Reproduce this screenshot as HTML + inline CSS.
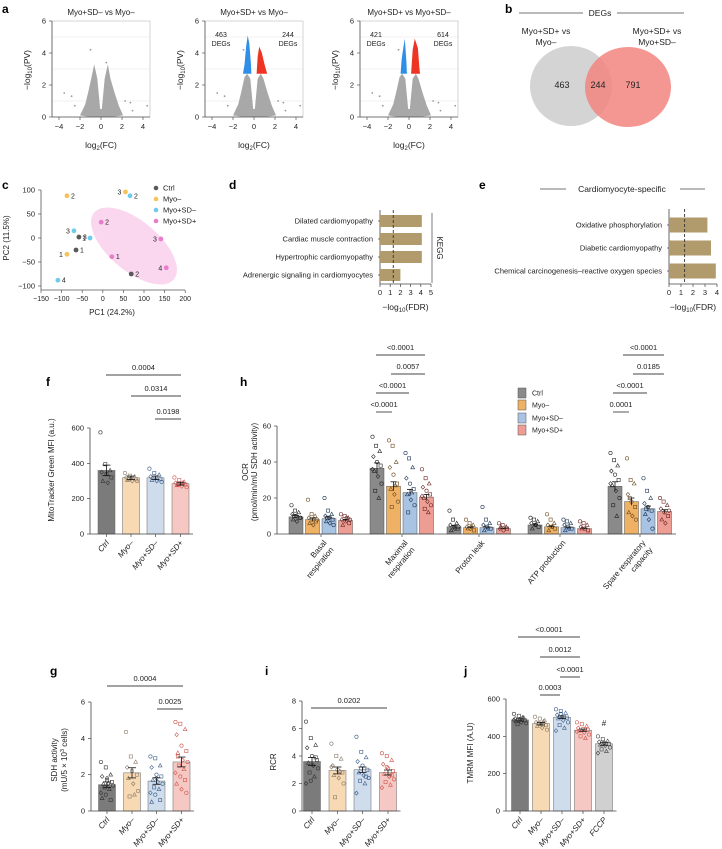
<!DOCTYPE html>
<html><head><meta charset="utf-8"><style>
body{margin:0;background:#fff;}
svg{display:block;font-family:"Liberation Sans",Arial,sans-serif;}
</style></head><body>
<svg id="fig" width="722" height="849" viewBox="0 0 722 849" xmlns="http://www.w3.org/2000/svg"></svg>
<script>
// ---------- data ----------
const volcTitles = ["Myo+SD– vs Myo–","Myo+SD+ vs Myo–","Myo+SD+ vs Myo+SD–"];
const volcDown = [null,"463","421"];
const volcUp = [null,"244","614"];
const volcOutliers = [[-3.5,1.5],[-2.8,1.3],[-2.5,0.7],[2.3,1.0],[2.8,0.9],[3.0,0.4],[4.4,0.7],[-1.0,4.2],[0.5,3.4]];
const vennLeft = 463, vennMid = 244, vennRight = 791;
const pcaGroups = ["Ctrl","Myo–","Myo+SD–","Myo+SD+"];
const pcaX = [[-58,-65,69],[-87,55,-87],[-70,-31,66,-109],[-4,22,141,154]];
const pcaY = [[2,-25,-75],[88,96,-34],[15,0,88,-88],[33,-39,-2,-62]];
const pcaLab = [["3","1","2"],["2","3","1"],["3","1","2","4"],["2","1","3","4"]];
const pcaXTicks = [-150,-100,-50,0,50,100,150,200];
const pcaYTicks = [100,50,0,-50,-100];
const keggTerms = ["Dilated cardiomyopathy","Cardiac muscle contraction","Hypertrophic cardiomyopathy","Adrenergic signaling in cardiomyocytes"];
const keggVals = [4.1,4.1,4.1,2.0];
const cardioTerms = ["Oxidative phosphorylation","Diabetic cardiomyopathy","Chemical carcinogenesis–reactive oxygen species"];
const cardioVals = [3.2,3.5,3.9];
const groups4 = ["Ctrl","Myo–","Myo+SD–","Myo+SD+"];
const fMeans = [360,318,318,285];
const fErr = [30,10,10,8];
const fPts = [[575,395,360,350,340,320,300,290],[345,330,325,320,315,310,305,300,300,310],[370,345,335,325,320,310,305,300,295],[320,305,295,290,285,280,275,270,265,280,290]];
const hCats = [["Basal","respiration"],["Maximal","respiration"],["Proton leak"],["ATP production"],["Spare respiratory","capacity"]];
const hMeans = [[9.5,8,8.5,7.5],[36.5,26.5,23,20.5],[4,3.5,3.5,3],[5,4,3.5,3],[26.5,18,14,12.5]];
const hErr = [[0.8,0.9,0.9,0.6],[3,2.5,1.8,1.5],[0.6,0.4,0.5,0.3],[0.5,0.4,0.4,0.3],[2.5,2,1.5,1]];
const hPts = [
 [[16,13,12,11,10,9,8,7,9,10],[19,11,10,9,8,7,6,5,8],[20,13,11,10,9,8,7,6,5,9],[11,10,9,8,7,6,5,9,8]],
 [[54,49,46,43,40,38,35,32,28,24,20,36],[52,49,40,37,33,28,25,22,18,15,27],[45,42,37,31,28,25,22,19,16,12,23],[36,31,28,26,24,22,20,18,16,14,12,21]],
 [[13,8,6,5,4,3,2,3,4],[8,6,5,4,3,2,3,4],[15,8,6,5,4,3,2,3],[6,5,4,3,2,3,4]],
 [[9,8,7,6,5,4,3,5],[11,8,6,5,4,3,2,4],[8,7,6,5,4,3,2,3],[7,6,5,4,3,2,3]],
 [[45,41,38,35,33,30,27,24,20,16,10,28],[42,30,28,22,18,15,12,10,8,20],[31,24,20,17,15,13,11,8,3,14],[20,18,16,14,12,10,8,6,13]]];
const hTicks = [0,20,40,60];
const gMeans = [1.45,2.1,1.65,2.7];
const gErr = [0.15,0.28,0.18,0.27];
const gPts = [[2.7,2.4,2.0,1.9,1.7,1.6,1.5,1.5,1.4,1.3,1.2,1.0,0.9,0.6,0.7,1.8],[4.35,3.0,2.7,2.4,2.2,2.0,1.8,1.5,1.1,0.8,0.9],[3.0,2.9,2.5,2.4,2.0,1.9,1.7,1.6,1.5,1.3,1.2,1.0,0.9,0.6,0.5,1.8],[4.9,4.8,4.5,4.2,3.6,3.3,3.2,2.8,2.7,2.5,2.3,2.1,1.9,1.7,1.5,1.2,1.0,3.0]];
const iMeans = [3.6,2.95,3.0,2.8];
const iErr = [0.3,0.25,0.2,0.18];
const iPts = [[6.5,5.3,4.8,4.6,4.0,3.7,3.5,3.3,3.1,2.8,2.5,2.0,2.2,3.9],[4.9,4.0,3.8,3.3,3.0,2.8,2.6,2.4,2.0,1.0,2.9,3.2],[5.4,4.3,3.9,3.6,3.3,3.0,2.8,2.6,2.4,2.2,2.0,1.3,3.1,2.5],[4.2,4.0,3.7,3.4,3.1,2.9,2.7,2.5,2.3,2.1,1.9,1.7,3.2,2.6]];
const jGroups = ["Ctrl","Myo–","Myo+SD–","Myo+SD+","FCCP"];
const jMeans = [488,468,502,433,360];
const jErr = [6,7,7,6,8];
const jPts = [[520,510,500,495,490,485,480,475,470,465,500,488],[505,495,485,475,465,460,455,445,435,470,480],[545,535,525,515,505,500,495,485,475,460,445,430,520],[475,465,455,445,440,435,430,420,410,400,390,425],[400,385,375,370,365,360,355,350,340,330,320,310]];

// ---------- helpers ----------
const S = document.getElementById('fig');
const NS = "http://www.w3.org/2000/svg";
function mk(tag, attrs, parent){const e=document.createElementNS(NS,tag);for(const k in attrs)e.setAttribute(k,attrs[k]);(parent||S).appendChild(e);return e;}
function tx(x,y,s,size,anchor,extra,parent){const e=mk('text',Object.assign({x:x,y:y,'font-size':size||7,'text-anchor':anchor||'middle',fill:'#222'},extra||{}),parent);e.textContent=s;return e;}
function ln(x1,y1,x2,y2,c,w,extra,parent){return mk('line',Object.assign({x1:x1,y1:y1,x2:x2,y2:y2,stroke:c||'#444','stroke-width':w||0.8},extra||{}),parent);}
function marker(cx,cy,shape,col,parent){
 if(shape===0) return mk('circle',{cx:cx,cy:cy,r:1.7,fill:'none',stroke:col,'stroke-width':0.6},parent);
 if(shape===1) return mk('rect',{x:cx-1.6,y:cy-1.6,width:3.2,height:3.2,fill:'none',stroke:col,'stroke-width':0.6},parent);
 if(shape===2) return mk('polygon',{points:(cx)+','+(cy-2)+' '+(cx+1.9)+','+(cy+1.4)+' '+(cx-1.9)+','+(cy+1.4),fill:'none',stroke:col,'stroke-width':0.6},parent);
 return mk('polygon',{points:(cx)+','+(cy-2)+' '+(cx+1.8)+','+cy+' '+cx+','+(cy+2)+' '+(cx-1.8)+','+cy,fill:'none',stroke:col,'stroke-width':0.6},parent);
}

// panel letters
[["a",2,13],["b",505,13],["c",2,189],["d",229,189],["e",479,189],["f",46,386],["h",240,386],["g",50,675],["i",265,675],["j",464,675]].forEach(p=>{
 const t=tx(p[1],p[2],p[0],12,'start',{'font-weight':'bold',fill:'#000'});
 
 
});

// ---------- a: volcano ----------
const volcLeft=[52,205,360];
for(let p=0;p<3;p++){
 const L=volcLeft[p], W=98;
 const xs=v=>L+7+(v+4)*(W-14)/8, ys=v=>117-v*16;
 const g=mk('g',{});
 
 
 for(let k=1;k<6;k+=2){ln(L,ys(k),L+W,ys(k),'#e6e6e6',0.6,{},g);}
 mk('rect',{x:L,y:21,width:W,height:96,fill:'none',stroke:'#bbb','stroke-width':0.6},g);
 const top = p===0?3.3:2.7;
 const cloud=[[-2,0.1],[-1.5,0.8],[-1.2,1.6],[-0.9,2.5],[-0.65,top],[-0.35,2.4],[-0.08,0.5],[0.08,0.5],[0.35,2.4],[0.65,top],[0.9,2.4],[1.3,1.5],[1.7,0.7],[2.1,0.1],[1,0],[-1,0]];
 const cl=mk('polygon',{points:cloud.map(q=>xs(q[0])+','+ys(q[1])).join(' '),fill:'#a8a8a8'},g);
 
 
 volcOutliers.forEach(o=>{mk('circle',{cx:xs(o[0]),cy:ys(o[1]),r:0.9,fill:'#999'},g);});
 if(p>0){
  const blue=[[-1.05,2.7],[-0.9,3.3],[-0.75,4.4],[-0.6,5.1],[-0.45,4.6],[-0.3,3.4],[-0.25,2.7]];
  const red=[[0.25,2.7],[0.35,3.8],[0.5,4.4],[0.75,4.0],[1.0,3.3],[1.25,2.7]];
  if(p===2){blue.splice(0,blue.length,[-0.8,2.7],[-0.7,3.6],[-0.55,4.3],[-0.4,4.9],[-0.25,3.5],[-0.2,2.7]);red.splice(0,red.length,[0.2,2.7],[0.35,4.2],[0.55,4.9],[0.85,4.3],[1.0,3.0],[1.05,2.7]);}
  const b=mk('polygon',{points:blue.map(q=>xs(q[0])+','+ys(q[1])).join(' '),fill:'#2f8fe8'},g);
  
  
  const r=mk('polygon',{points:red.map(q=>xs(q[0])+','+ys(q[1])).join(' '),fill:'#ee3524'},g);
  
  
  tx(L+16,37,volcDown[p],7,'middle',{},g);tx(L+16,46,'DEGs',7,'middle',{},g);
  tx(L+W-15,37,volcUp[p],7,'middle',{},g);tx(L+W-15,46,'DEGs',7,'middle',{},g);
 }
 ln(L,117,L+W,117,'#555',0.8,{},g);ln(L,21,L,117,'#555',0.8,{},g);
 for(let v=-4;v<=4;v+=2){ln(xs(v),117,xs(v),120,'#555',0.7,{},g);tx(xs(v),129,v<0?'−'+(-v):''+v,7.5,'middle',{},g);}
 for(let v=0;v<=6;v+=2){ln(L-3,ys(v),L,ys(v),'#555',0.7,{},g);tx(L-6,ys(v)+2.5,''+v,7.5,'end',{},g);}
 const t=tx(L+W/2,15,volcTitles[p],8,'middle',{},g);
 
 
 const xl=tx(L+W/2,148,'',8.5,'middle',{},g);xl.innerHTML='log<tspan font-size="6" dy="2">2</tspan><tspan dy="-2">(FC)</tspan>';
 const yl=tx(0,0,'',8.5,'middle',{transform:'translate('+(L-22)+',70) rotate(-90)'},g);yl.innerHTML='−log<tspan font-size="6" dy="2">10</tspan><tspan dy="-2">(PV)</tspan>';
}

// ---------- b: venn ----------
const vg=mk('g',{});


ln(519,13,583,13,'#444',0.7,{},vg);ln(617,13,684,13,'#444',0.7,{},vg);
tx(600,16,'DEGs',8.5,'middle',{},vg);
tx(546,34,'Myo+SD+ vs',8.5,'middle',{},vg);tx(546,45,'Myo–',8.5,'middle',{},vg);
tx(657,34,'Myo+SD+ vs',8.5,'middle',{},vg);tx(657,45,'Myo+SD–',8.5,'middle',{},vg);
const e1=mk('ellipse',{cx:571,cy:86,rx:41,ry:40,fill:'#d4d4d4'},vg);


const e2=mk('ellipse',{cx:628,cy:87,rx:43,ry:40,fill:'#f2857f','fill-opacity':0.85},vg);


tx(562,88,''+vennLeft,9,'middle',{},vg);tx(598,88,''+vennMid,9,'middle',{},vg);tx(633,88,''+vennRight,9,'middle',{},vg);

// ---------- c: PCA ----------
const pcx=v=>102.8+v*0.412, pcy=v=>238-v*0.48;
const pcaCol=['#595959','#f5c35a','#6fcaee','#e97ccb'];
const pg=mk('g',{});


const ell=mk('ellipse',{cx:134,cy:246,rx:52,ry:25,fill:'#fad6ef',transform:'rotate(40 134 246)'},pg);


ln(41,190,41,290,'#555',0.8,{},pg);ln(41,290,185,290,'#555',0.8,{},pg);
pcaYTicks.forEach(v=>{ln(38,pcy(v),41,pcy(v),'#555',0.7,{},pg);tx(35,pcy(v)+2.5,v<0?'−'+(-v):''+v,7.5,'end',{},pg);});
pcaXTicks.forEach(v=>{ln(pcx(v),290,pcx(v),293,'#555',0.7,{},pg);tx(pcx(v),301,v<0?'−'+(-v):''+v,7,'middle',{},pg);});
tx(112,315,'PC1 (24.2%)',8,'middle',{},pg);
tx(0,0,'PC2 (11.5%)',8,'middle',{transform:'translate(9,238) rotate(-90)'},pg);
for(let gi=0;gi<4;gi++){
 for(let k=0;k<pcaX[gi].length;k++){
  const c=mk('circle',{cx:pcx(pcaX[gi][k]),cy:pcy(pcaY[gi][k]),r:2.4,fill:pcaCol[gi]},pg);
  
  
  const left = pcaX[gi][k]>100 || (gi===1&&k!==0) || (gi===2&&(k===0||k===1)) ;
  tx(pcx(pcaX[gi][k])+(left?-4:4),pcy(pcaY[gi][k])+2.5,pcaLab[gi][k],7,left?'end':'start',{},pg);
 }
 const lc=mk('circle',{cx:156,cy:[188,199,210,221][gi],r:2.3,fill:pcaCol[gi]},pg);
 
 
 const lt=tx(163,[188,199,210,221][gi]+2.5,pcaGroups[gi],7.5,'start',{},pg);
 
 
}

// ---------- d / e: enrichment bars ----------
function enrich(name,terms,vals,ax,k,rows,bh,maxT,yTop,yBot){
 const g=mk('g',{});
 
 
 ln(ax,yTop,ax,yBot,'#444',0.8,{},g);ln(ax,yBot,ax+k*maxT,yBot,'#444',0.8,{},g);
 for(let t=0;t<=maxT;t++){ln(ax+k*t,yBot,ax+k*t,yBot+3,'#444',0.7,{},g);tx(ax+k*t,yBot+11,''+t,7.5,'middle',{},g);}
 terms.forEach((t,i)=>{
  const r=mk('rect',{x:ax,y:rows[i]-bh/2,width:vals[i]*k,height:bh,fill:'#b19a6c'},g);
  
  
  ln(ax-2,rows[i],ax,rows[i],'#444',0.7,{},g);
  tx(ax-7,rows[i]+2.5,t,7.5,'end',{},g);
 });
 ln(ax+1.3*k,yTop,ax+1.3*k,yBot,'#333',0.9,{'stroke-dasharray':'3,2'},g);
 const xl=tx(ax+k*maxT/2,yBot+26,'',8.5,'middle',{},g);xl.innerHTML='−log<tspan font-size="6" dy="2">10</tspan><tspan dy="-2">(FDR)</tspan>';
 return g;
}
enrich('kegg-chart',keggTerms,keggVals,380,10.2,[221,239,257,275],12,5,210,284);
ln(432,213,432,283,'#444',0.7);
tx(0,0,'KEGG',8,'middle',{transform:'translate(437,248) rotate(90)'});
enrich('cardiomyocyte-chart',cardioTerms,cardioVals,669,12,[225,248,271],15,4,209,284);
ln(540,189,566,189,'#444',0.7);ln(680,189,705,189,'#444',0.7);
tx(622,192,'Cardiomyocyte-specific',8.5);

// ---------- generic bar chart ----------
const fillLight=['#7b7b7b','#f7d9b3','#cfdcec','#f6c8c3','#d3d3d3'];
const strokeDark=['#333','#8a7a68','#3c5f8e','#d0554d','#444'];
function barChart(name,labels,means,errs,pts,ax,y0,yMaxPx,yMax,centers,bw,ticks,fills){
 const k=(y0-yMaxPx)/yMax, ys=v=>y0-v*k;
 const g=mk('g',{});
 
 
 means.forEach((m,i)=>{
  const r=mk('rect',{x:centers[i]-bw/2,y:ys(m),width:bw,height:y0-ys(m),fill:fills[i],stroke:'#666','stroke-width':0.5},g);
  
  
  pts[i].forEach((v,j)=>{
   const c=marker(centers[i]+((j*37)%11-5)*bw/14,ys(v),j%4,strokeDark[i],g);
   
   
  });
  ln(centers[i],ys(m+errs[i]),centers[i],ys(m-errs[i]),'#111',0.8,{},g);
  ln(centers[i]-4,ys(m+errs[i]),centers[i]+4,ys(m+errs[i]),'#111',0.8,{},g);
  ln(centers[i]-4,ys(m-errs[i]),centers[i]+4,ys(m-errs[i]),'#111',0.8,{},g);
  ln(centers[i],y0,centers[i],y0+3,'#444',0.7,{},g);
  const t=tx(centers[i]+3,y0+9,labels[i],8,'end',{transform:'rotate(-50 '+(centers[i]+3)+' '+(y0+9)+')','font-style':'italic'},g);
  
  
 });
 ln(ax,yMaxPx,ax,y0,'#444',0.8,{},g);
 ln(ax,y0,centers[centers.length-1]+bw/2+4,y0,'#444',0.8,{},g);
 ticks.forEach(v=>{ln(ax-3,ys(v),ax,ys(v),'#444',0.7,{},g);tx(ax-6,ys(v)+2.5,''+v,7.5,'end',{},g);});
 return g;
}
function sig(x1,x2,y,label){ln(x1,y,x2,y,'#444',0.9);const t=tx((x1+x2)/2,y-5,label,7.5);}

// f
barChart('mitotracker-chart',groups4,fMeans,fErr,fPts,90,534,428,600,[106.5,131,155.5,180.5],17,[0,200,400,600],fillLight);
tx(0,0,'MitoTracker Green MFI (a.u.)',8,'middle',{transform:'translate(54,470) rotate(-90)'});
sig(106,181,375,'0.0004');sig(131,181,396,'0.0314');sig(155,181,419,'0.0198');

// g
barChart('sdh-activity-chart',groups4,gMeans,gErr,gPts,91,811,702,6,[107,132,156.5,181.5],17,[0,2,4,6],fillLight);
tx(0,0,'SDH activity',8,'middle',{transform:'translate(57,760) rotate(-90)'});
const gy=tx(0,0,'',8,'middle',{transform:'translate(67,760) rotate(-90)'});gy.innerHTML='(mU/5 × 10<tspan font-size="5.5" dy="-3">3</tspan><tspan dy="3"> cells)</tspan>';
sig(107,183,686,'0.0004');sig(157,183,709,'0.0025');

// i
barChart('rcr-chart',groups4,iMeans,iErr,iPts,302,811,701,8,[312,337.5,362.5,388],17,[0,2,4,6,8],fillLight);
tx(0,0,'RCR',8,'middle',{transform:'translate(276,762) rotate(-90)'});
sig(311,387,708,'0.0202');

// j
const jFills=['#7b7b7b','#f7d9b3','#cfdcec','#f6c8c3','#d0d0d0'];
barChart('tmrm-chart',jGroups,jMeans,jErr,jPts,506,811,699,600,[520,541,562,583,604],17,[0,200,400,600],jFills);
tx(0,0,'TMRM MFI (A.U)',8,'middle',{transform:'translate(473,753) rotate(-90)'});
tx(604,726,'#',8);
sig(518,580,637,'<0.0001');sig(540,580,657,'0.0012');sig(560,580,677,'<0.0001');sig(540,560,695,'0.0003');

// ---------- h: OCR ----------
const hFill=['#8a8a8a','#efb265','#a9c4e3','#ee9d94'];
const hStroke=['#222','#6b4a20','#1d3556','#6a2520'];
const hStart=[289,370,447,528,608];
const hAx=277;
const hy=v=>534-v*1.8;
const hg=mk('g',{});


hCats.forEach((cat,ci)=>{
 for(let b=0;b<4;b++){
  const cx=hStart[ci]+7+b*16.5;
  const r=mk('rect',{x:cx-7,y:hy(hMeans[ci][b]),width:14,height:534-hy(hMeans[ci][b]),fill:hFill[b],stroke:'#555','stroke-width':0.5},hg);
  
  
  hPts[ci][b].forEach((v,j)=>{
   const c=marker(cx+((j*37)%11-5)*0.9,hy(v),j%4,hStroke[b],hg);
   
   
  });
  const m=hMeans[ci][b],e=hErr[ci][b];
  ln(cx,hy(m+e),cx,hy(m-e),'#111',0.8,{},hg);ln(cx-3,hy(m+e),cx+3,hy(m+e),'#111',0.8,{},hg);
 }
 const gc=hStart[ci]+32;
 ln(gc,534,gc,537,'#444',0.7,{},hg);
 cat.forEach((line,li)=>{
  const ax=gc+6+li*7, ay=543+li*7;
  const t=tx(ax,ay,line,8,'end',{transform:'rotate(-50 '+ax+' '+ay+')'},hg);
  
  
 });
});
ln(hAx,426,hAx,534,'#444',0.8,{},hg);ln(hAx,534,676,534,'#444',0.8,{},hg);
hTicks.forEach(v=>{ln(hAx-3,hy(v),hAx,hy(v),'#444',0.7,{},hg);tx(hAx-6,hy(v)+2.5,''+v,7.5,'end',{},hg);});
tx(0,0,'OCR',8,'middle',{transform:'translate(248,472) rotate(-90)'});
tx(0,0,'(pmol/min/mU SDH activity)',8,'middle',{transform:'translate(257,472) rotate(-90)'});
['Ctrl','Myo–','Myo+SD–','Myo+SD+'].forEach((n,i)=>{
 const y=[393,405,418,430][i];
 const r=mk('rect',{x:518,y:y-5,width:8,height:10,fill:hFill[i],stroke:'#555','stroke-width':0.5});
 
 
 const t=tx(532,y+2.5,n,7,'start');
 
 
});
sig(376,425,355,'<0.0001');sig(391,425,374,'0.0057');sig(376,409,393,'<0.0001');sig(376,392,412,'<0.0001');
sig(623,664,355,'<0.0001');sig(633,664,374,'0.0185');sig(613,647,393,'<0.0001');sig(613,629,412,'0.0001');
</script>
</body></html>
